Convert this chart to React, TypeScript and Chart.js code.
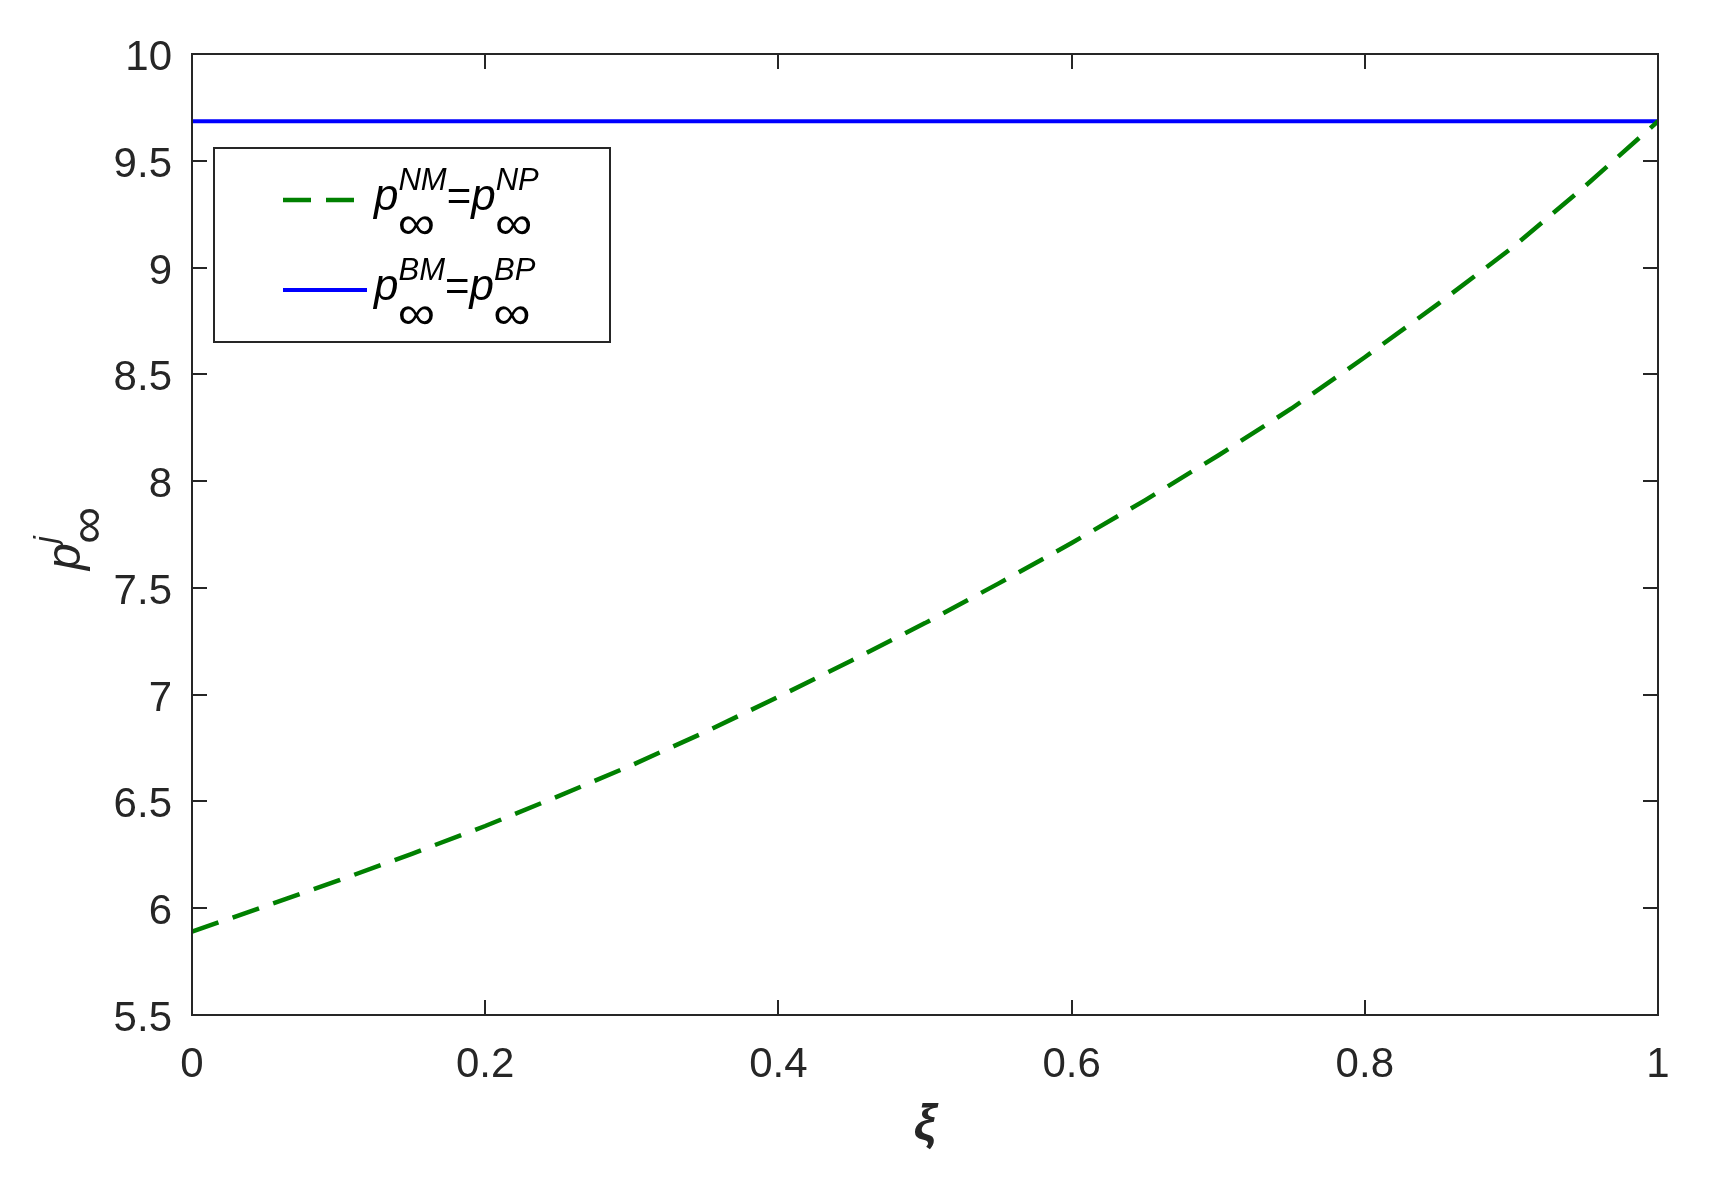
import React, { useEffect, useRef } from "react";
import { Chart, registerables } from "chart.js";

Chart.register(...registerables);

// ---- data ----
const xiValues = [0, 0.05, 0.1, 0.15, 0.2, 0.25, 0.3, 0.35, 0.4, 0.45, 0.5, 0.55, 0.6, 0.65, 0.7, 0.75, 0.8, 0.85, 0.9, 0.95, 1];
const normalValues = [5.89, 6.01, 6.13, 6.255, 6.385, 6.525, 6.67, 6.825, 6.99, 7.16, 7.335, 7.52, 7.71, 7.91, 8.12, 8.34, 8.58, 8.83, 9.09, 9.38, 9.685];
const bundleXi = [0, 1];
const bundleValues = [9.685, 9.685];
const xRange = [0, 1];
const xStep = 0.2;
const yRange = [5.5, 10];
const yStep = 0.5;

const AXIS_COLOR = "#262626";
const FONT = '"Liberation Sans", Arial, Helvetica, sans-serif';
const INF_FONT = '"Liberation Sans", sans-serif';

// draw the infinity sign scaled into a box (x = left edge, cy = vertical centre)
function drawInf(ctx: CanvasRenderingContext2D, x: number, cy: number, w: number, h: number) {
  ctx.save();
  ctx.font = `60px ${INF_FONT}`;
  ctx.textAlign = "left";
  ctx.textBaseline = "alphabetic";
  const m = ctx.measureText("\u221E");
  const inkL = -m.actualBoundingBoxLeft;
  const inkW = m.actualBoundingBoxRight + m.actualBoundingBoxLeft;
  const inkT = -m.actualBoundingBoxAscent;
  const inkH = m.actualBoundingBoxAscent + m.actualBoundingBoxDescent;
  const sx = w / inkW;
  const sy = h / inkH;
  ctx.translate(x, cy - h / 2);
  ctx.scale(sx, sy);
  ctx.translate(-inkL, -inkT);
  ctx.fillText("\u221E", 0, 0);
  ctx.restore();
}

function drawP(ctx: CanvasRenderingContext2D, x: number, base: number, sup: string, pSize: number, supSize: number, supDy: number, infDy: number, infW: number, infH: number) {
  ctx.font = `italic ${pSize}px ${FONT}`;
  ctx.fillText("p", x, base);
  const cx = x + ctx.measureText("p").width;
  ctx.font = `italic ${supSize}px ${FONT}`;
  ctx.fillText(sup, cx, base + supDy);
  const sw = ctx.measureText(sup).width;
  drawInf(ctx, cx + 1, base + infDy, infW, infH);
  return cx + Math.max(sw, infW + 2);
}

const fmt = (v: number) => String(Number(v.toFixed(3)));

const matlabFrame = {
  id: "matlabFrame",
  afterDatasetsDraw(chart: any) {
    const { ctx, chartArea: a, scales } = chart;
    const xs = scales.x;
    const ys = scales.y;
    const tl = 15;
    ctx.save();
    ctx.strokeStyle = AXIS_COLOR;
    ctx.lineWidth = 2;
    ctx.strokeRect(a.left, a.top, a.right - a.left, a.bottom - a.top);

    ctx.beginPath();
    for (const t of xs.ticks) {
      const px = Math.round(xs.getPixelForValue(t.value));
      ctx.moveTo(px, a.bottom);
      ctx.lineTo(px, a.bottom - tl);
      ctx.moveTo(px, a.top);
      ctx.lineTo(px, a.top + tl);
    }
    for (const t of ys.ticks) {
      const py = Math.round(ys.getPixelForValue(t.value));
      ctx.moveTo(a.left, py);
      ctx.lineTo(a.left + tl, py);
      ctx.moveTo(a.right, py);
      ctx.lineTo(a.right - tl, py);
    }
    ctx.stroke();

    // tick labels
    ctx.fillStyle = AXIS_COLOR;
    ctx.font = `42px ${FONT}`;
    ctx.textBaseline = "alphabetic";
    ctx.textAlign = "center";
    for (const t of xs.ticks) {
      ctx.fillText(fmt(t.value), xs.getPixelForValue(t.value), a.bottom + 62);
    }
    ctx.textAlign = "right";
    for (const t of ys.ticks) {
      ctx.fillText(fmt(t.value), a.left - 20, ys.getPixelForValue(t.value) + 16);
    }

    // x title
    ctx.textAlign = "center";
    ctx.font = `italic bold 50px ${FONT}`;
    ctx.fillText("\u03BE", (a.left + a.right) / 2, 1139);

    // y title (rotated)
    ctx.save();
    ctx.translate(80, 570);
    ctx.rotate(-Math.PI / 2);
    ctx.textAlign = "left";
    ctx.fillStyle = AXIS_COLOR;
    drawP(ctx, 0, 0, "j", 48, 32, -24, 10, 34, 20);
    ctx.restore();

    // legend
    const lx = a.left + 22;
    const ly = a.top + 94;
    ctx.lineWidth = 2;
    ctx.strokeStyle = AXIS_COLOR;
    ctx.fillStyle = "#ffffff";
    ctx.fillRect(lx, ly, 396, 194);
    ctx.strokeRect(lx, ly, 396, 194);

    const ds = chart.data.datasets;
    const rows = [
      { y: ly + 52, base: ly + 62, sup1: "NM", sup2: "NP", d: ds[0] },
      { y: ly + 142, base: ly + 152, sup1: "BM", sup2: "BP", d: ds[1] },
    ];
    for (const r of rows) {
      ctx.save();
      ctx.strokeStyle = r.d.borderColor;
      ctx.lineWidth = r.d.borderWidth;
      ctx.setLineDash(r.d.borderDash || []);
      ctx.beginPath();
      ctx.moveTo(lx + 69, r.y);
      ctx.lineTo(lx + 153, r.y);
      ctx.stroke();
      ctx.restore();
      ctx.fillStyle = "#000000";
      ctx.textAlign = "left";
      let cx = drawP(ctx, lx + 160, r.base, r.sup1, 44, 31, -20, 16, 34, 19);
      ctx.font = `42px ${FONT}`;
      ctx.fillText("=", cx, r.base);
      cx += ctx.measureText("=").width;
      drawP(ctx, cx, r.base, r.sup2, 44, 31, -20, 16, 34, 19);
    }
    ctx.restore();
  },
};

export default function App() {
  const ref = useRef<HTMLCanvasElement>(null);
  useEffect(() => {
    document.body.style.margin = "0";
    const canvas = ref.current;
    if (!canvas) return;
    const chart = new Chart(canvas, {
      type: "line",
      data: {
        datasets: [
          {
            label: "p∞NM=p∞NP",
            data: xiValues.map((x, i) => ({ x, y: normalValues[i] })),
            borderColor: "#008000",
            borderWidth: 4.5,
            borderDash: [28, 15],
            pointRadius: 0,
            fill: false,
            tension: 0,
          },
          {
            label: "p∞BM=p∞BP",
            data: bundleXi.map((x, i) => ({ x, y: bundleValues[i] })),
            borderColor: "#0000ff",
            borderWidth: 4,
            pointRadius: 0,
            fill: false,
            tension: 0,
          },
        ],
      },
      options: {
        responsive: false,
        devicePixelRatio: 1,
        animation: false,
        events: [],
        layout: { padding: { top: 54, right: 51, left: 0, bottom: 0 } },
        plugins: { legend: { display: false }, tooltip: { enabled: false } },
        scales: {
          x: {
            type: "linear",
            min: xRange[0],
            max: xRange[1],
            ticks: { stepSize: xStep, display: false },
            grid: { display: false },
            border: { display: false },
            afterFit: (s: any) => {
              s.height = 164;
            },
          },
          y: {
            type: "linear",
            min: yRange[0],
            max: yRange[1],
            ticks: { stepSize: yStep, display: false },
            grid: { display: false },
            border: { display: false },
            afterFit: (s: any) => {
              s.width = 192;
            },
          },
        },
      },
      plugins: [matlabFrame],
    } as any);
    return () => chart.destroy();
  }, []);
  return (
    <div style={{ width: 1709, height: 1179, background: "#ffffff" }}>
      <canvas ref={ref} width={1709} height={1179} style={{ display: "block" }} />
    </div>
  );
}
